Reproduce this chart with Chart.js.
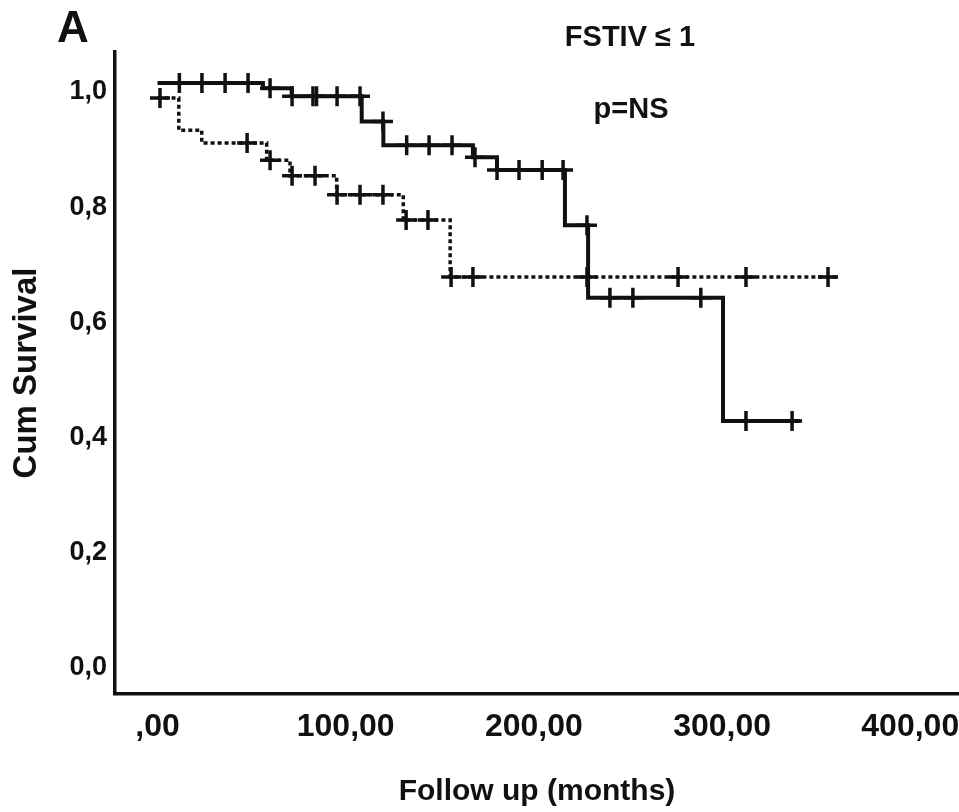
<!DOCTYPE html>
<html>
<head>
<meta charset="utf-8">
<script src="https://cdn.jsdelivr.net/npm/chart.js@4/dist/chart.umd.min.js"></script>
<style>
  html, body { margin: 0; padding: 0; background: #fff; overflow: hidden; }
  #wrap { width: 959px; height: 812px; overflow: hidden; position: relative; }
  canvas { display: block; }
</style>
</head>
<body>
<div id="wrap"><canvas id="c" width="1000" height="812" style="width:1000px;height:812px"></canvas></div>
<script>
// ---- Data (Kaplan-Meier, FSTIV <= 1) ----
// Solid curve: time of each step (months) and survival after the step
const solidTimes = [0, 56, 71.3, 108.5, 120, 167.6, 180.4, 216.5, 228.8, 300.5, 341.4];
const solidSurv  = [1.000, 0.991, 0.977, 0.933, 0.892, 0.871, 0.849, 0.753, 0.627, 0.413, 0.413];
const solidCensored = [11.6, 23.6, 35.9, 48.1, 59.8, 71.5, 82.6, 84.5, 95.4, 107.6, 119.8, 132.4, 144.3,
                       156.5, 168.7, 180.4, 192.1, 204.4, 215.5, 228.2, 240.4, 252.6, 288.7, 312.7, 337.2];

// Dotted curve
const dottedTimes = [0, 11.3, 23.5, 58, 70.4, 95.2, 130.6, 155.5, 362];
const dottedSurv  = [0.974, 0.918, 0.896, 0.866, 0.839, 0.806, 0.762, 0.663, 0.663];
const dottedCensored = [1.3, 47.6, 59.8, 71.5, 83.7, 95.4, 107.6, 119.8, 132.1, 143.7, 156, 167.6,
                        228.2, 276.6, 312.7, 356.3];

// Axis ticks
const xTickValues = [0, 100, 200, 300, 400];
const xTickLabels = [',00', '100,00', '200,00', '300,00', '400,00'];
const yTickValues = [0, 0.2, 0.4, 0.6, 0.8, 1.0];
const yTickLabels = ['0,0', '0,2', '0,4', '0,6', '0,8', '1,0'];

// ---- helpers ----
function stepValue(times, surv, t) {
  let v = surv[0];
  for (let i = 0; i < times.length; i++) { if (times[i] <= t) v = surv[i]; }
  return v;
}
const toPts = (ts, ss) => ts.map((t, i) => ({ x: t, y: ss[i] }));
const censorPts = (cs, ts, ss) => cs.map(t => ({ x: t, y: stepValue(ts, ss, t) }));

const FONT = "'Liberation Sans', Arial, Helvetica, sans-serif";
const INK = '#111';

const annotations = {
  id: 'annotations',
  afterDraw(chart) {
    const ctx = chart.ctx;
    ctx.save();
    ctx.fillStyle = INK;
    ctx.textAlign = 'center';
    ctx.textBaseline = 'middle';
    ctx.font = "bold 44px " + FONT;
    ctx.fillText('A', 73, 30);
    ctx.font = "bold 29px " + FONT;
    ctx.fillText('FSTIV \u2264 1', 630, 38);
    ctx.fillText('p=NS', 631, 110);
    ctx.restore();
  }
};

new Chart(document.getElementById('c'), {
  type: 'line',
  data: {
    datasets: [
      {
        label: 'solid',
        data: toPts(solidTimes, solidSurv),
        stepped: true,
        borderColor: INK, borderWidth: 4,
        pointRadius: 0, fill: false
      },
      {
        label: 'dotted',
        data: toPts(dottedTimes, dottedSurv),
        stepped: true,
        borderColor: INK, borderWidth: 3.5, borderDash: [4, 3],
        pointRadius: 0, fill: false
      },
      {
        label: 'solid censored',
        type: 'scatter',
        data: censorPts(solidCensored, solidTimes, solidSurv),
        pointStyle: 'cross', pointRadius: 10, pointBorderWidth: 3.5,
        borderColor: INK, backgroundColor: INK, showLine: false
      },
      {
        label: 'dotted censored',
        type: 'scatter',
        data: censorPts(dottedCensored, dottedTimes, dottedSurv),
        pointStyle: 'cross', pointRadius: 10, pointBorderWidth: 3.5,
        borderColor: INK, backgroundColor: INK, showLine: false
      }
    ]
  },
  options: {
    responsive: false,
    animation: false,
    layout: { padding: { left: 0, top: 52, right: 41, bottom: 0 } },
    plugins: { legend: { display: false }, tooltip: { enabled: false } },
    scales: {
      x: {
        type: 'linear',
        min: -22.6, max: 425.9,
        afterFit(scale) { scale.height = 118; },
        afterBuildTicks(scale) { scale.ticks = xTickValues.map(v => ({ value: v })); },
        grid: { display: false, drawTicks: false },
        border: { display: true, color: INK, width: 3.5 },
        ticks: {
          autoSkip: false, maxRotation: 0, padding: 14, color: INK,
          font: { family: FONT, size: 32, weight: 'bold' },
          callback: (v) => xTickLabels[xTickValues.indexOf(v)]
        },
        title: {
          display: true, text: 'Follow up (months)', color: INK,
          font: { family: FONT, size: 30, weight: 'bold' },
          padding: { top: 0, bottom: 2 }
        }
      },
      y: {
        type: 'linear',
        min: -0.0608, max: 1.0538,
        afterFit(scale) { scale.width = 115; },
        afterBuildTicks(scale) { scale.ticks = yTickValues.map(v => ({ value: v })); },
        grid: { display: false, drawTicks: false },
        border: { display: true, color: INK, width: 3.5 },
        ticks: {
          autoSkip: false, padding: 8, labelOffset: 9, color: INK,
          font: { family: FONT, size: 27, weight: 'bold' },
          callback: (v) => {
            const i = yTickValues.findIndex(t => Math.abs(t - v) < 1e-9);
            return yTickLabels[i];
          }
        },
        title: {
          display: true, text: 'Cum Survival', color: INK,
          font: { family: FONT, size: 33, weight: 'bold' },
          padding: { top: 7, bottom: 0 }
        }
      }
    }
  },
  plugins: [annotations]
});
</script>
</body>
</html>
